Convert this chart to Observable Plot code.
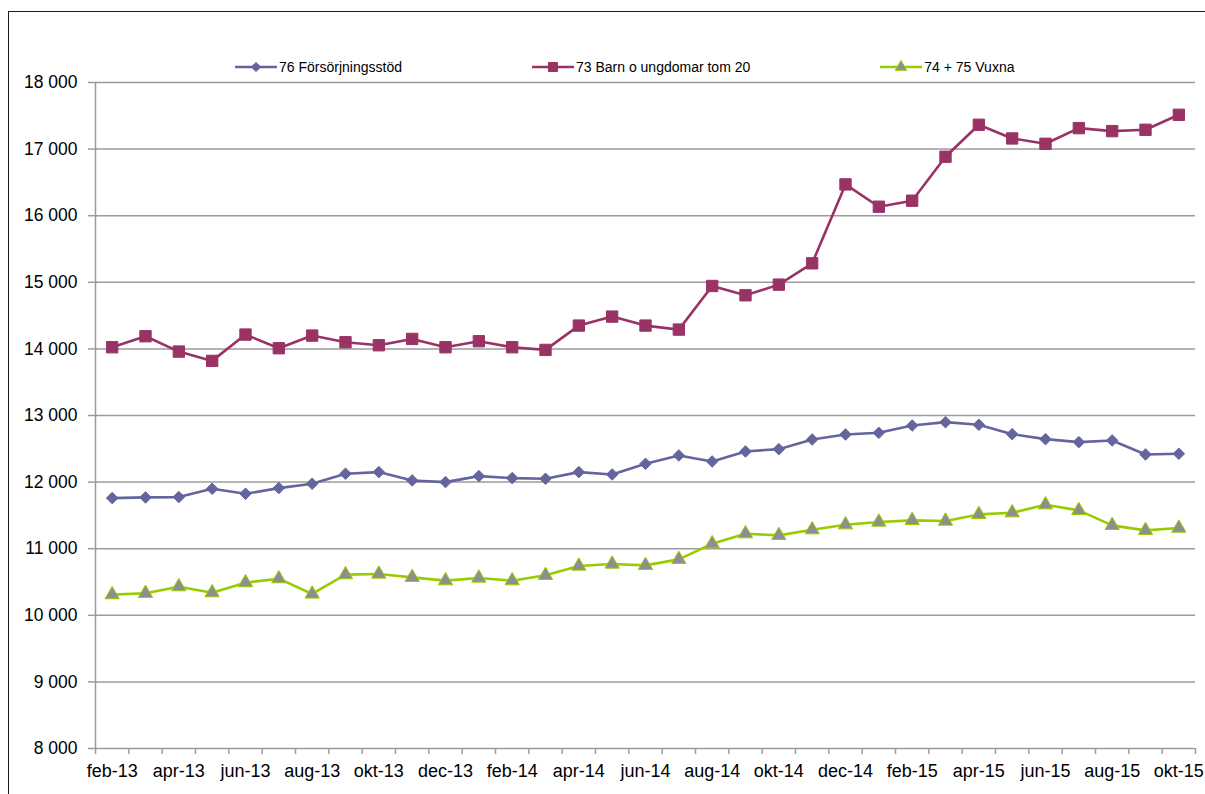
<!DOCTYPE html>
<html><head><meta charset="utf-8">
<script src="https://cdn.jsdelivr.net/npm/d3@7"></script>
<script src="https://cdn.jsdelivr.net/npm/@observablehq/plot@0.6"></script>
<style>
body{margin:0;background:#fff;}
#wrap{position:relative;width:1205px;height:794px;overflow:hidden;background:#fff;font-family:"Liberation Sans",Arial,sans-serif;}
#frame{position:absolute;left:8px;top:11px;width:1220px;height:820px;border:1.5px solid #1a1a1a;box-sizing:border-box;}
#legend{position:absolute;left:235px;top:58px;height:18px;display:flex;gap:130px;font-size:14px;align-items:center;white-space:nowrap;color:#000;}
.item{display:flex;align-items:center;}
.item svg{display:block;margin-right:2px;}
#chart{position:absolute;left:0;top:0;}
</style>
</head><body>
<div id="wrap"><div id="frame"></div><div id="chart"></div><div id="legend"></div></div>
<script>
const months = ["feb-13","mar-13","apr-13","maj-13","jun-13","jul-13","aug-13","sep-13","okt-13","nov-13","dec-13",
  "jan-14","feb-14","mar-14","apr-14","maj-14","jun-14","jul-14","aug-14","sep-14","okt-14","nov-14","dec-14",
  "jan-15","feb-15","mar-15","apr-15","maj-15","jun-15","jul-15","aug-15","sep-15","okt-15"];
const forsorjningsstod = [11760,11770,11775,11900,11825,11910,11975,12125,12150,12025,12000,12090,12060,12050,12150,12115,
  12275,12400,12310,12460,12495,12640,12715,12740,12850,12900,12860,12720,12645,12600,12625,12415,12425];
const barnUngdomar = [14025,14190,13960,13820,14215,14010,14200,14100,14055,14150,14025,14115,14025,13985,14350,14485,
  14350,14290,14945,14805,14965,15285,16470,16135,16225,16885,17365,17160,17080,17315,17270,17290,17515];
const vuxna = [10310,10330,10430,10340,10490,10550,10320,10610,10620,10570,10520,10560,10520,10600,10740,10770,
  10750,10840,11075,11225,11200,11285,11360,11400,11425,11415,11515,11540,11660,11575,11350,11275,11310];
const seriesNames = ["76 Försörjningsstöd","73 Barn o ungdomar tom 20","74 + 75 Vuxna"];
const yTicks = d3.range(8000, 18001, 1000);
const labelIdx = months.map((m,i)=>i).filter(i=>i%2===0);

const series = [
  {name: seriesNames[0], values: forsorjningsstod, stroke:"#65659e", fill:"#65659e", symbol:"diamond2", d3sym:d3.symbolDiamond2, r:5.2},
  {name: seriesNames[1], values: barnUngdomar, stroke:"#993366", fill:"#993366", symbol:"square", d3sym:d3.symbolSquare, r:6.4},
  {name: seriesNames[2], values: vuxna, stroke:"#99cc00", fill:"#8e8e8e", symbol:"triangle", d3sym:d3.symbolTriangle, r:5.3}
];

const grid = "#9b9b9b";
const fmt = d => d3.format(",")(d).replace(",", " ");

const marks = [
  Plot.gridY(yTicks, {stroke: grid, strokeOpacity: 1, strokeWidth: 1.5}),
  Plot.ruleX([-0.5], {stroke: grid, strokeWidth: 1.5}),
  Plot.axisY({ticks: yTicks, tickSize: 7, tickPadding: 11, tickFormat: fmt, fontSize: 17.5, stroke: grid, strokeWidth: 1.5, fill: "#000", label: null}),
  Plot.axisX({ticks: d3.range(34).map(i => i - 0.5), tickSize: 6, tickFormat: () => "", stroke: grid, strokeWidth: 1.5, label: null}),
  Plot.axisX({ticks: labelIdx, tickSize: 0, tickPadding: 16, tickFormat: i => months[i], fontSize: 18, fill: "#000", label: null})
];
for (const s of series) {
  marks.push(Plot.line(s.values, {x: (d, i) => i, y: d => d, stroke: s.stroke, strokeWidth: 2.6}));
  marks.push(Plot.dot(s.values, {x: (d, i) => i, y: d => d, symbol: s.symbol, fill: s.fill, stroke: s.stroke, strokeWidth: 1, r: s.r}));
}

const chart = Plot.plot({
  width: 1205, height: 794,
  marginLeft: 95, marginRight: 10, marginTop: 82, marginBottom: 46,
  x: {domain: [-0.5, 32.5]},
  y: {domain: [8000, 18000]},
  style: {fontFamily: "'Liberation Sans', Arial, sans-serif", background: "transparent", color: "#000"},
  marks
});
document.getElementById("chart").appendChild(chart);

const legend = d3.select("#legend");
for (const s of series) {
  const item = legend.append("div").attr("class", "item");
  const svg = item.append("svg").attr("width", 42).attr("height", 14);
  svg.append("line").attr("x1", 0).attr("x2", 42).attr("y1", 7).attr("y2", 7).attr("stroke", s.stroke).attr("stroke-width", 2.6);
  svg.append("path").attr("transform", "translate(21,7)")
    .attr("d", d3.symbol(s.d3sym, Math.PI * (s.r * 0.8) ** 2)())
    .attr("fill", s.fill).attr("stroke", s.stroke).attr("stroke-width", 1);
  item.append("span").text(s.name);
}
</script>
</body></html>
